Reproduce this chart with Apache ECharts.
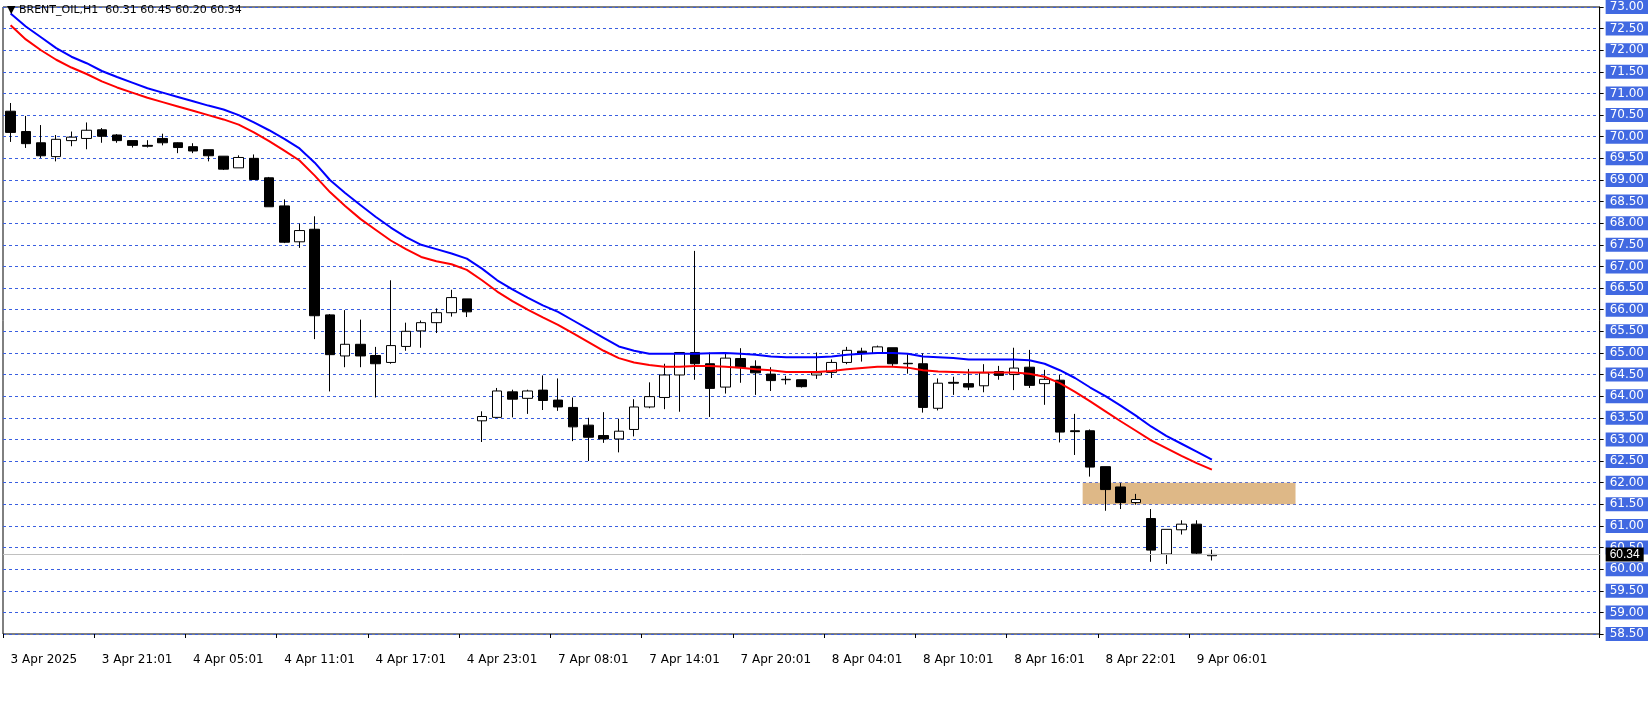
<!DOCTYPE html>
<html><head><meta charset="utf-8">
<script src="https://cdn.jsdelivr.net/npm/echarts@6/dist/echarts.min.js"></script>
<style>html,body{margin:0;padding:0;background:#fff}#c{width:1651px;height:707px}</style>
</head><body><div id="c"></div>
<script>
// OHLC per hourly bar: [open, close, low, high]
const candles = [
[70.59,70.10,69.88,70.78],[70.12,69.84,69.74,70.48],[69.86,69.56,69.51,70.27],[69.54,69.94,69.43,70.04],
[69.91,69.99,69.78,70.12],[69.96,70.15,69.71,70.33],[70.16,70.01,69.86,70.20],[70.04,69.91,69.86,70.06],
[69.91,69.80,69.75,69.91],[69.80,69.78,69.75,69.92],[69.96,69.86,69.80,70.07],[69.86,69.75,69.62,69.87],
[69.77,69.67,69.62,69.85],[69.70,69.56,69.43,69.70],[69.55,69.25,69.23,69.55],[69.28,69.52,69.28,69.57],
[69.50,69.01,69.01,69.59],[69.05,68.38,68.38,69.07],[68.40,67.56,67.54,68.55],[67.57,67.83,67.43,67.99],
[67.86,65.86,65.32,68.16],[65.88,64.96,64.11,65.90],[64.93,65.20,64.67,65.99],[65.20,64.93,64.67,65.77],
[64.94,64.75,63.97,65.14],[64.78,65.17,64.75,66.68],[65.15,65.50,65.05,65.70],[65.51,65.70,65.12,65.75],
[65.70,65.93,65.46,66.03],[65.93,66.28,65.84,66.46],[66.25,65.95,65.83,66.25],[63.43,63.53,62.94,63.65],
[63.51,64.12,63.50,64.19],[64.10,63.93,63.51,64.15],[63.95,64.12,63.59,64.15],[64.14,63.90,63.68,64.48],
[63.91,63.75,63.66,64.41],[63.74,63.29,62.96,63.97],[63.33,63.05,62.50,63.50],[63.09,63.01,62.92,63.63],
[63.01,63.19,62.70,63.48],[63.23,63.75,63.07,63.93],[63.75,63.99,63.72,64.32],[63.97,64.49,63.70,64.75],
[64.49,65.01,63.64,65.01],[65.01,64.75,64.38,67.36],[64.75,64.18,63.52,65.01],[64.21,64.88,64.06,64.99],
[64.87,64.66,64.31,65.11],[64.69,64.54,64.03,64.83],[64.51,64.36,64.12,64.67],[64.38,64.39,64.27,64.47],
[64.38,64.22,64.20,64.38],[64.49,64.54,64.40,65.01],[64.55,64.78,64.42,64.85],[64.78,65.06,64.74,65.14],
[65.04,64.99,64.80,65.12],[64.99,65.14,64.99,65.17],[65.12,64.75,64.70,65.12],[64.76,64.75,64.52,64.97],
[64.75,63.74,63.62,64.99],[63.72,64.30,63.67,64.41],[64.32,64.30,64.03,64.45],[64.29,64.21,64.14,64.63],
[64.24,64.54,64.09,64.74],[64.57,64.48,64.38,64.70],[64.50,64.65,64.14,65.12],[64.67,64.25,64.19,65.07],
[64.29,64.39,63.80,64.61],[64.37,63.17,62.93,64.49],[63.20,63.18,62.64,63.59],[63.20,62.36,62.14,63.23],
[62.37,61.84,61.35,62.37],[61.90,61.54,61.39,61.99],[61.54,61.61,61.49,61.74],[61.17,60.44,60.17,61.39],
[60.35,60.92,60.12,60.92],[60.91,61.04,60.80,61.13],[61.04,60.37,60.33,61.13],[60.31,60.34,60.20,60.45]
];
const maBlue = [72.85,72.55,72.3,72.05,71.85,71.7,71.52,71.38,71.25,71.12,71.02,70.92,70.82,70.72,70.63,70.5,70.33,70.15,69.95,69.73,
69.4,69.0,68.7,68.42,68.15,67.9,67.68,67.5,67.4,67.3,67.18,66.95,66.68,66.47,66.28,66.1,65.95,65.75,65.55,65.35,
65.15,65.05,64.98,64.98,64.98,64.98,64.99,65.0,64.98,64.96,64.92,64.9,64.9,64.9,64.92,64.96,64.98,65.0,65.0,64.98,
64.92,64.9,64.88,64.85,64.85,64.85,64.85,64.83,64.75,64.6,64.42,64.2,64.0,63.78,63.55,63.3,63.08,62.9,62.72,62.53];
const maRed = [72.58,72.25,72.0,71.78,71.6,71.45,71.28,71.14,71.02,70.9,70.8,70.7,70.6,70.5,70.4,70.28,70.1,69.9,69.68,69.45,
69.1,68.72,68.4,68.1,67.85,67.6,67.4,67.22,67.12,67.05,66.92,66.68,66.42,66.2,66.0,65.82,65.65,65.45,65.25,65.05,
64.88,64.78,64.72,64.68,64.68,64.7,64.7,64.68,64.66,64.62,64.6,64.56,64.56,64.56,64.58,64.62,64.65,64.68,64.68,64.66,
64.6,64.57,64.56,64.55,64.55,64.55,64.55,64.52,64.45,64.3,64.1,63.88,63.65,63.42,63.2,62.98,62.8,62.62,62.45,62.3];
const tickLabels = ["3 Apr 2025","3 Apr 21:01","4 Apr 05:01","4 Apr 11:01","4 Apr 17:01","4 Apr 23:01","7 Apr 08:01",
"7 Apr 14:01","7 Apr 20:01","8 Apr 04:01","8 Apr 10:01","8 Apr 16:01","8 Apr 22:01","9 Apr 06:01"];
const zone = {from: 71, to: 84, top: 62.0, bottom: 61.5};
const lastPrice = 60.34;
const totalBars = 105;

const cats = [];
for (let i = 0; i < totalBars; i++) cats.push(i % 6 === 0 && tickLabels[i/6] ? tickLabels[i/6] : '');

const chart = echarts.init(document.getElementById('c'));
const blue = '#3a5fe0';
chart.setOption({
  animation: false,
  title: {text: '▼ BRENT_OIL,H1  60.31 60.45 60.20 60.34', left: 2, top: 0,
    textStyle: {fontSize: 11, fontWeight: 'normal', color: '#000', fontFamily: 'DejaVu Sans'}},
  grid: {left: 3, right: 51, top: 4, bottom: 73, show: true, borderColor: '#000', borderWidth: 1},
  xAxis: {type: 'category', data: cats, boundaryGap: true,
    axisLine: {show: false},
    axisTick: {show: true, interval: (i) => i % 6 === 0 && i < 84, length: 4, lineStyle: {color: '#000'}},
    axisLabel: {interval: 0, margin: 20, align: 'left', fontSize: 12, color: '#000', fontFamily: 'DejaVu Sans'},
    splitLine: {show: false}},
  yAxis: {type: 'value', position: 'right', min: 58.5, max: 73, interval: 0.5,
    axisLine: {show: true, lineStyle: {color: '#000'}},
    axisTick: {show: true, length: 4, lineStyle: {color: '#000'}},
    axisLabel: {formatter: v => v.toFixed(2), fontSize: 12, color: '#fff', backgroundColor: '#4169e1',
      padding: [1, 4, 1, 4], margin: 6, fontFamily: 'DejaVu Sans'},
    splitLine: {show: true, lineStyle: {color: blue, type: [3, 3], width: 1}}},
  series: [
    {type: 'custom', z: 1, silent: true, data: [[zone.from, zone.top, zone.to, zone.bottom]],
      renderItem: (params, api) => {
        const p1 = api.coord([api.value(0), api.value(1)]);
        const p2 = api.coord([api.value(2), api.value(3)]);
        const w = api.size([1, 0])[0];
        return {type: 'rect', shape: {x: p1[0] - w/2, y: p1[1], width: p2[0] - p1[0] + w, height: p2[1] - p1[1]},
          style: {fill: '#deb887'}};
      }},
    {type: 'candlestick', data: candles, barWidth: 10, z: 3,
      itemStyle: {color: '#fff', color0: '#000', borderColor: '#000', borderColor0: '#000', borderWidth: 1},
      markLine: {symbol: 'none', silent: true, data: [{yAxis: lastPrice}],
        lineStyle: {color: '#c0c0c0', type: 'solid', width: 1},
        label: {position: 'end', formatter: lastPrice.toFixed(2), color: '#fff', backgroundColor: '#000',
          padding: [1, 4], fontSize: 12, distance: 6}}},
    {type: 'line', data: maBlue, showSymbol: false, z: 4, lineStyle: {color: '#0000ff', width: 2}},
    {type: 'line', data: maRed, showSymbol: false, z: 4, lineStyle: {color: '#ff0000', width: 2}}
  ]
});
</script></body></html>
